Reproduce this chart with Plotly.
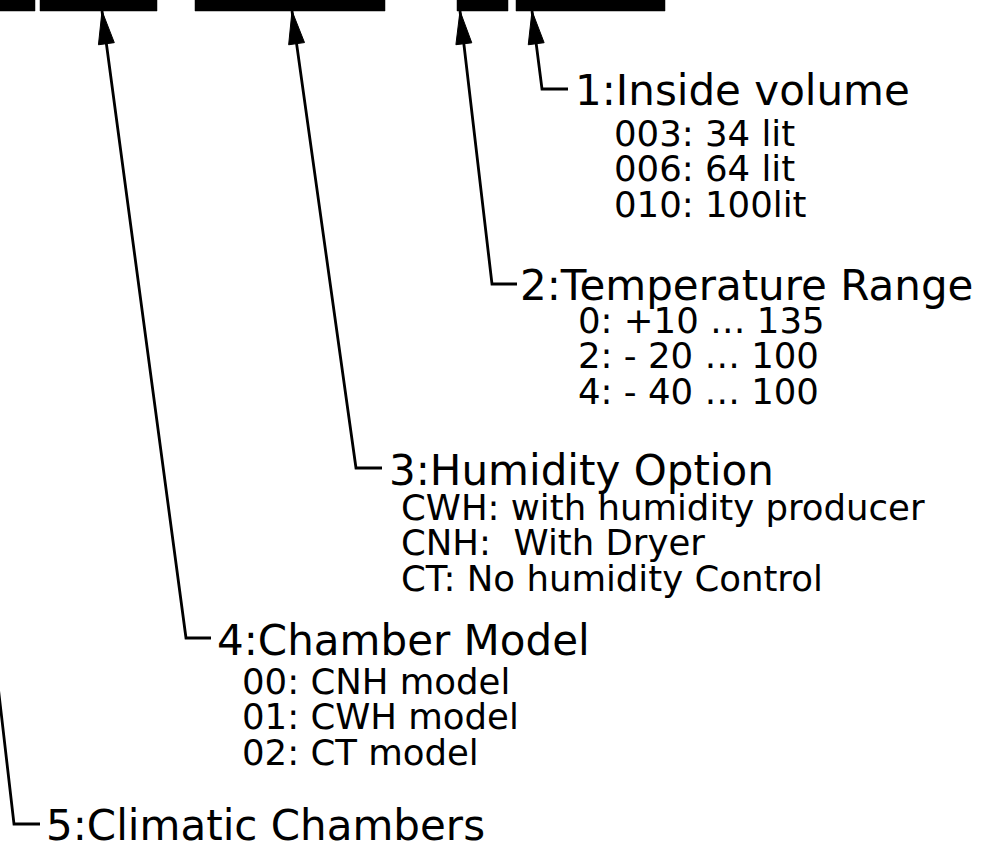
import numpy as np
import plotly.graph_objects as go

W, H = 993, 848

# ---- data (diagram geometry in pixel units of the drawing) ----
bar_x0 = [-10, 40, 195, 457, 516]
bar_x1 = [35, 157, 385, 508, 665]
bar_top, bar_bottom = -5, 11

tip_x = [532, 460, 292, 102, -80]
tip_y = [11, 11, 11, 11, 11]
elbow_x = [542, 492, 356, 186, 14]
elbow_y = [89, 284, 468, 638, 824]
tick_end_x = [568, 517, 382, 211, 40]
has_head = [True, True, True, True, False]

titles = ["1:Inside volume", "2:Temperature Range", "3:Humidity Option",
          "4:Chamber Model", "5:Climatic Chambers"]
title_x = [574, 519, 388, 216, 45]
title_y = [90, 285, 470, 640, 825]

items = [
    ["003: 34 lit", "006: 64 lit", "010: 100lit"],
    ["0: +10 \u2026 135", "2: - 20 \u2026 100", "4: - 40 \u2026 100"],
    ["CWH: with humidity producer", "CNH: \u00a0With Dryer", "CT: No humidity Control"],
    ["00: CNH model", "01: CWH model", "02: CT model"],
    [],
]
item_x = [613, 577, 400, 241, 0]
item_y0 = [133, 320, 507, 681, 0]
item_step = 35.5

FONT = "DejaVu Sans"
TITLE_SIZE = 42
ITEM_SIZE = 35.5
HEAD_LEN = 33
HEAD_HALF = 8
LW = 2.8

fig = go.Figure()

# bars
for x0, x1 in zip(bar_x0, bar_x1):
    fig.add_trace(go.Scatter(
        x=[x0, x1, x1, x0, x0], y=[bar_top, bar_top, bar_bottom, bar_bottom, bar_top],
        mode="lines", fill="toself", fillcolor="black",
        line=dict(color="black", width=0.5), hoverinfo="skip", showlegend=False))

# leader lines + arrow heads
for tx, ty, ex, ey, kx, head in zip(tip_x, tip_y, elbow_x, elbow_y, tick_end_x, has_head):
    fig.add_trace(go.Scatter(
        x=[tx, ex, kx], y=[ty, ey, ey], mode="lines",
        line=dict(color="black", width=LW), hoverinfo="skip", showlegend=False))
    if head:
        d = np.array([ex - tx, ey - ty], dtype=float)
        u = d / np.linalg.norm(d)
        n = np.array([-u[1], u[0]])
        b = np.array([tx, ty]) + u * HEAD_LEN
        p1 = b + n * HEAD_HALF
        p2 = b - n * HEAD_HALF
        fig.add_trace(go.Scatter(
            x=[tx, p1[0], p2[0], tx], y=[ty, p1[1], p2[1], ty],
            mode="lines", fill="toself", fillcolor="black",
            line=dict(color="black", width=1), hoverinfo="skip", showlegend=False))

annotations = []
for t, x, y in zip(titles, title_x, title_y):
    annotations.append(dict(x=x, y=y, xref="x", yref="y", text=t, showarrow=False,
                            xanchor="left", yanchor="middle", borderpad=0,
                            font=dict(family=FONT, size=TITLE_SIZE, color="black")))
for lines, x, y0 in zip(items, item_x, item_y0):
    for i, s in enumerate(lines):
        annotations.append(dict(x=x, y=y0 + i * item_step, xref="x", yref="y", text=s,
                                showarrow=False, xanchor="left", yanchor="middle", borderpad=0,
                                font=dict(family=FONT, size=ITEM_SIZE, color="black")))

fig.update_layout(
    width=W, height=H, margin=dict(l=0, r=0, t=0, b=0),
    paper_bgcolor="white", plot_bgcolor="white",
    xaxis=dict(range=[0, W], visible=False, fixedrange=True),
    yaxis=dict(range=[H, 0], visible=False, fixedrange=True),
    annotations=annotations, showlegend=False,
)

fig.write_html(
    "out.html",
    config={"displayModeBar": False},
    post_script="document.body.style.margin='0px';document.body.style.overflow='hidden';",
)
